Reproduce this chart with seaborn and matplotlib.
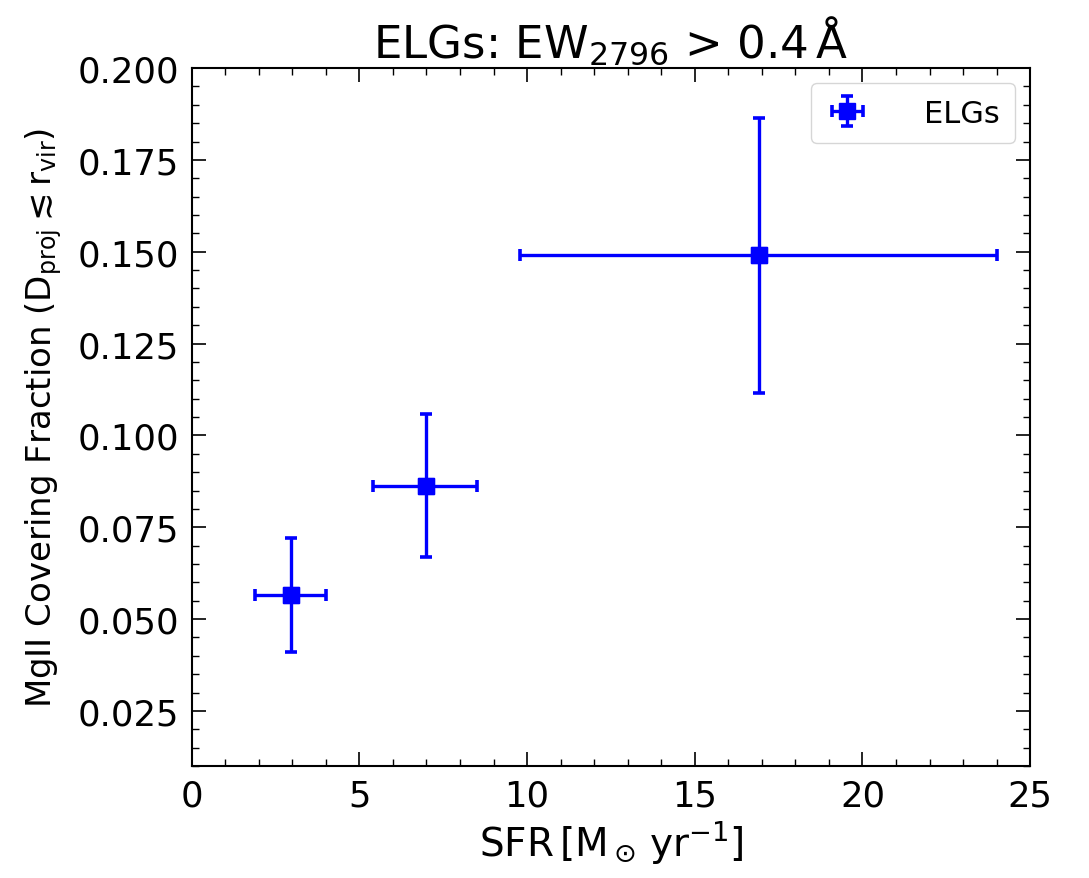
import matplotlib
matplotlib.use("Agg")
import matplotlib.pyplot as plt
import seaborn as sns
import numpy as np
import pandas as pd
from matplotlib.ticker import MultipleLocator

# Data
sfr = [2.95, 7.0, 16.9]
sfr_lo = [1.9, 5.4, 9.8]
sfr_hi = [4.0, 8.5, 24.0]
fc = [0.0565, 0.0862, 0.149]
fc_lo = [0.0410, 0.0668, 0.1115]
fc_hi = [0.0722, 0.1058, 0.1865]

df = pd.DataFrame({"SFR": sfr, "fc": fc})

sns.set_style("ticks")
plt.rcParams['font.family'] = ['DejaVu Sans']
plt.rcParams['mathtext.default'] = 'regular'
plt.rcParams['text.color'] = 'black'
plt.rcParams['axes.labelcolor'] = 'black'
plt.rcParams['xtick.color'] = 'black'
plt.rcParams['ytick.color'] = 'black'

fig = plt.figure(figsize=(10.89, 8.79), dpi=100)
ax = fig.add_axes([0.176, 0.1274, 0.770, 0.794])

xerr = np.array([np.array(sfr) - np.array(sfr_lo), np.array(sfr_hi) - np.array(sfr)])
yerr = np.array([np.array(fc) - np.array(fc_lo), np.array(fc_hi) - np.array(fc)])
ax.errorbar(sfr, fc, xerr=xerr, yerr=yerr, fmt='s', color='blue', ms=11,
            elinewidth=2.4, capsize=4, capthick=2.6, label='ELGs', zorder=3)
sns.scatterplot(data=df, x="SFR", y="fc", marker='s', s=120, color='blue',
                edgecolor='blue', legend=False, ax=ax, zorder=4)

ax.set_xlim(0, 25)
ax.set_ylim(0.01, 0.2)
ax.xaxis.set_major_locator(MultipleLocator(5))
ax.xaxis.set_minor_locator(MultipleLocator(1))
ax.yaxis.set_major_locator(MultipleLocator(0.025))
ax.yaxis.set_minor_locator(MultipleLocator(0.005))
ax.tick_params(which='both', direction='in', top=True, right=True, labelsize=25.5,
               colors='black')
ax.tick_params(which='major', length=10, width=1.2, pad=9)
ax.tick_params(which='minor', length=5, width=1.0)
for s in ax.spines.values():
    s.set_linewidth(1.5)
    s.set_color('black')

ax.set_xlabel(r'SFR$\,$[M$_\odot\,$yr$^{-1}$]', fontsize=28, color='black', labelpad=4)
ax.set_ylabel(r'MgII Covering Fraction (D$_{\rm proj}$$\lesssim$r$_{\rm vir}$)',
              fontsize=24.5, color='black', labelpad=10)
ax.set_title(r'ELGs: EW$_{2796}$ > 0.4$\,\AA$', fontsize=32.5, pad=8, color='black')

leg = ax.legend(loc='upper right', fontsize=22, frameon=True, handlelength=1.4,
                handletextpad=1.8, borderpad=0.5)
for t in leg.get_texts():
    t.set_color('black')

fig.savefig("out.png", dpi=100)
